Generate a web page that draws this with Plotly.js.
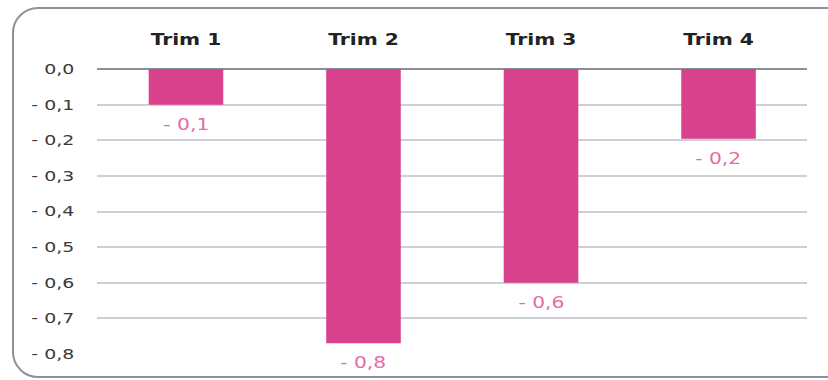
<!DOCTYPE html>
<html>
<head>
<meta charset="utf-8">
<script src="https://cdn.plot.ly/plotly-3.0.1.min.js"></script>
<style>
  html, body { margin: 0; padding: 0; background: #fff; }
  #wrap { position: relative; width: 828px; height: 380px; overflow: hidden; background: #fff; }
  #chart { position: absolute; left: 0; top: 0; width: 613px; height: 380px;
           transform: scaleX(1.35); transform-origin: 0 0; }
  #frame { position: absolute; left: 12px; top: 7px; width: 840px; height: 371px;
           border: 2px solid #8c929c; border-radius: 26px; pointer-events: none; box-sizing: border-box; }
</style>
</head>
<body>
<div id="wrap">
  <div id="chart"></div>
  <div id="frame"></div>
</div>
<script>
const categories = ["Trim 1", "Trim 2", "Trim 3", "Trim 4"];
const values = [-0.1, -0.77, -0.6, -0.196];
const valueLabels = ["- 0,1", "- 0,8", "- 0,6", "- 0,2"];
const yTickVals = [0, -0.1, -0.2, -0.3, -0.4, -0.5, -0.6, -0.7, -0.8];
const yTickText = ["0,0", "- 0,1", "- 0,2", "- 0,3", "- 0,4", "- 0,5", "- 0,6", "- 0,7", "- 0,8"];

const FONT = "DejaVu Sans, Verdana, sans-serif";

const trace = {
  type: "bar",
  x: categories,
  y: values,
  marker: { color: "#d8418b" },
  hoverinfo: "none"
};

const annotations = categories.map((c, i) => ({
  x: c,
  y: values[i],
  xref: "x",
  yref: "y",
  text: valueLabels[i],
  showarrow: false,
  yanchor: "middle",
  yshift: -20,
  font: { family: FONT, size: 15, color: "#e66aa5" }
}));

const layout = {
  width: 613,
  height: 380,
  margin: { l: 72, r: 15, t: 69, b: 26 },
  paper_bgcolor: "rgba(0,0,0,0)",
  plot_bgcolor: "rgba(0,0,0,0)",
  showlegend: false,
  bargap: 0.58,
  font: { family: FONT, color: "#333" },
  annotations: annotations,
  xaxis: {
    side: "top",
    tickvals: categories,
    ticktext: categories.map(c => "<b>" + c + "</b>"),
    tickfont: { family: FONT, size: 15, color: "#222" },
    showgrid: false,
    showline: false,
    zeroline: false,
    ticks: "",
    ticklabelstandoff: 20
  },
  yaxis: {
    range: [-0.8, 0],
    tickvals: yTickVals,
    ticktext: yTickText,
    tickfont: { family: FONT, size: 14, color: "#3a3a3a" },
    showgrid: true,
    gridcolor: "#cdd0d8",
    gridwidth: 2,
    zeroline: true,
    zerolinecolor: "#8a8f99",
    zerolinewidth: 2.5,
    showline: false,
    ticks: "",
    ticklabelstandoff: 16
  }
};

Plotly.newPlot("chart", [trace], layout, { displayModeBar: false, staticPlot: true });
</script>
</body>
</html>
